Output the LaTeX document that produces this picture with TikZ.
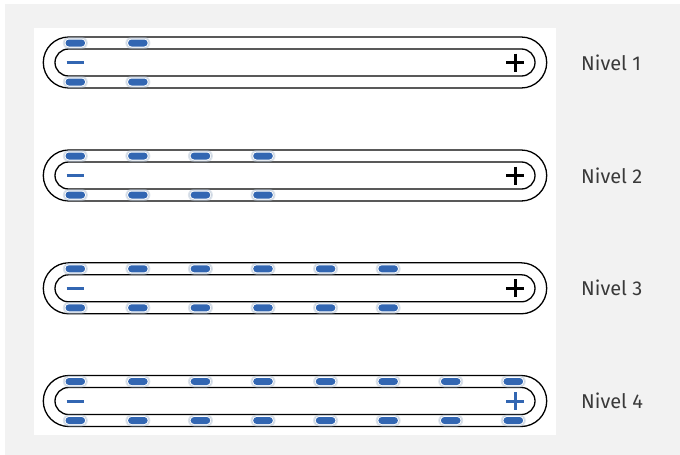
\documentclass[tikz,border=0pt]{standalone}
\usepackage{fontspec}
\setmainfont{Fira Sans}
\definecolor{bggray}{HTML}{F2F2F2}
\definecolor{pillblue}{HTML}{3266B2}
\definecolor{halo}{HTML}{B4C3D4}
\definecolor{txtgray}{HTML}{3A3A3A}
\begin{document}
\begin{tikzpicture}[x=1pt,y=-1pt,
  capline/.style={draw=black,line width=1.3pt},
  signline/.style={line width=3pt},
  lbl/.style={anchor=base west,text=txtgray,font=\fontsize{20}{22}\selectfont,inner sep=0pt}]
\useasboundingbox (0,0) rectangle (680,455);
\fill[white] (0,0) rectangle (680,455);
\fill[bggray] (5,4) rectangle (680,455);
\fill[white] (34,28) rectangle (556,435);
\foreach \lv/\c/\n/\pc in {1/62.5/2/black,2/175.5/4/black,3/288.3/6/black,4/401/8/pillblue}{
  \draw[capline,rounded corners=25.5pt] (43.3,\c-25.5) rectangle (546.7,\c+25.5);
  \draw[capline,rounded corners=13.5pt] (55,\c-13.5) rectangle (535,\c+13.5);
  \foreach \i in {1,...,\n}{
    \pgfmathsetmacro\px{75.3+62.57*(\i-1)}
    \foreach \py in {\c-19.5,\c+19.5}{
      \fill[halo,opacity=0.45,rounded corners=6pt] (\px-12.5,\py-6) rectangle (\px+12.5,\py+6);
      \fill[halo,opacity=0.6,rounded corners=5pt] (\px-11.5,\py-5) rectangle (\px+11.5,\py+5);
      \fill[white,rounded corners=4.5pt] (\px-10.8,\py-4.5) rectangle (\px+10.8,\py+4.5);
      \fill[pillblue,rounded corners=3.5pt] (\px-9.8,\py-3.5) rectangle (\px+9.8,\py+3.5);
    }
  }
  \draw[pillblue,signline] (66.7,\c) -- (84,\c);
  \draw[\pc,signline] (506,\c) -- (524,\c);
  \draw[\pc,signline] (515,\c-9) -- (515,\c+9);
  \node[lbl] (nivel\lv) at (581,\c+7.5) {Nivel \lv};
}
\end{tikzpicture}
\end{document}
